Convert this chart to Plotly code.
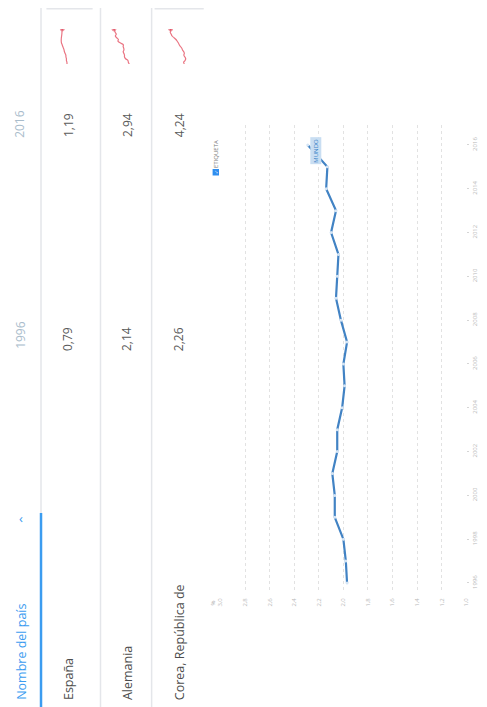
import plotly.graph_objects as go

W, H = 487, 707
OFF = 8  # default page margin of the html body

years = list(range(1996, 2017))
mundo = [1.97, 1.98, 2.00, 2.07, 2.07, 2.09, 2.05, 2.05, 2.01, 1.99, 2.00,
         1.97, 2.02, 2.06, 2.05, 2.04, 2.10, 2.06, 2.14, 2.13, 2.29]

countries = ["España", "Alemania", "Corea, República de"]
val_1996 = ["0,79", "2,14", "2,26"]
val_2016 = ["1,19", "2,94", "4,24"]
spark_es = [0.79, 0.80, 0.84, 0.84, 0.88, 0.89, 0.95, 1.01, 1.04, 1.09, 1.15,
            1.20, 1.26, 1.28, 1.28, 1.27, 1.25, 1.23, 1.22, 1.21, 1.19]
spark_de = [2.14, 2.19, 2.21, 2.33, 2.39, 2.39, 2.42, 2.46, 2.42, 2.43, 2.46,
            2.45, 2.60, 2.73, 2.71, 2.80, 2.87, 2.82, 2.87, 2.91, 2.94]
spark_kr = [2.26, 2.37, 2.16, 2.07, 2.18, 2.34, 2.27, 2.35, 2.53, 2.63, 2.83,
            3.00, 3.12, 3.29, 3.47, 3.74, 4.03, 4.15, 4.29, 4.22, 4.24]
value_ticks = [1.0, 1.2, 1.4, 1.6, 1.8, 2.0, 2.2, 2.4, 2.6, 2.8, 3.0]
year_ticks = list(range(1996, 2017, 2))

FW, FH = W - OFF, H - OFF


def px(x):
    return (x - OFF) / FW


def py(y):
    return 1 - (y - OFF) / FH


FONT = "Open Sans, Noto Sans, sans-serif"
fig = go.Figure()

# main chart (page is rotated: years run bottom->top, values right->left)
fig.add_trace(go.Scatter(
    x=mundo, y=years, mode="lines+markers",
    line=dict(color="#4283c4", width=2.2),
    marker=dict(size=3, color="#d5e5f5"),
    xaxis="x", yaxis="y", showlegend=False,
))

# sparklines
sparks = [spark_es, spark_de, spark_kr]
spark_dom = [(54, 66), (108, 130), (165, 186)]
spark_rng = [(1.62, 0.62), (3.13, 2.00), (4.85, 1.88)]
for i, s in enumerate(sparks):
    n = i + 2
    fig.add_trace(go.Scatter(
        x=s, y=years, mode="lines+markers",
        line=dict(color="#ea7583", width=1.2, shape="spline"),
        marker=dict(size=[0] * (len(s) - 1) + [4], color="#e0475b"),
        xaxis=f"x{n}", yaxis=f"y{n}", showlegend=False,
    ))
    fig.update_layout(**{
        f"xaxis{n}": dict(domain=[px(spark_dom[i][0]), px(spark_dom[i][1])],
                          range=list(spark_rng[i]), visible=False, anchor=f"y{n}"),
        f"yaxis{n}": dict(domain=[py(64), py(29)], range=[1996, 2016],
                          visible=False, anchor=f"x{n}"),
    })

tick_font = dict(family=FONT, size=6, color="#b8b8b8")
fig.update_layout(
    width=FW, height=FH,
    margin=dict(l=0, r=0, t=0, b=0),
    paper_bgcolor="white", plot_bgcolor="white",
    separators=",.",
    xaxis=dict(
        domain=[px(220), px(470)], range=[3.0, 1.0],
        tickvals=value_ticks, tickformat=".1f", tickangle=-90,
        showgrid=True, gridcolor="#e2e2e2", griddash="dot", gridwidth=1,
        zeroline=False, showline=False, ticks="", tickfont=tick_font,
        ticklabelstandoff=6, anchor="y",
    ),
    yaxis=dict(
        domain=[py(590), py(125)], range=[1995.68, 2016.91],
        side="right", tickvals=year_ticks, tickangle=-90,
        showgrid=False, zeroline=False, showline=False,
        ticks="outside", ticklen=2, tickcolor="#d5d5d5",
        ticklabelstandoff=1, tickfont=tick_font, anchor="x",
    ),
)

shapes = []
# table lines
for x in (37.5, 98, 150):
    shapes.append(dict(type="line", xref="paper", yref="paper",
                       x0=px(x), x1=px(x), y0=py(8), y1=py(707),
                       line=dict(color="#e4e6ea", width=1.5)))
shapes.append(dict(type="line", xref="paper", yref="paper",
                   x0=px(37.5), x1=px(37.5), y0=py(513), y1=py(707),
                   line=dict(color="#3b9cf0", width=2.5)))
for x0, x1 in ((43, 90), (153, 203)):
    shapes.append(dict(type="line", xref="paper", yref="paper",
                       x0=px(x0), x1=px(x1), y0=py(8.8), y1=py(8.8),
                       line=dict(color="#e4e6ea", width=1.5)))
# legend checkbox
shapes.append(dict(type="rect", xref="paper", yref="paper",
                   x0=px(212), x1=px(218.5), y0=py(175.5), y1=py(169),
                   fillcolor="#2f8ef0", line=dict(width=0)))
fig.update_layout(shapes=shapes)

ann = []


def text(x, y, s, size, color, anchor="middle", angle=-90, **kw):
    ann.append(dict(x=px(x), y=py(y), xref="paper", yref="paper", text=s,
                    showarrow=False, textangle=angle, xanchor="center",
                    yanchor=anchor, font=dict(family=FONT, size=size, color=color),
                    **kw))


text(17, 702, "Nombre del país", 12.5, "#3b9cf0", anchor="bottom")
text(17, 518, "‹", 13, "#3b9cf0", angle=0)
text(16, 335, "1996", 12, "#a9bccb")
text(16, 124, "2016", 12, "#a9bccb")
row_x = [65, 125, 178]
for i, c in enumerate(countries):
    text(row_x[i], 702, c, 12.5, "#4d4d4d", anchor="bottom")
    text(row_x[i], 339, val_1996[i], 12, "#5a5a5a")
    text(row_x[i], 125, val_2016[i], 12, "#5a5a5a")

text(215.5, 172.2, "✓", 5, "white")
text(215.5, 154, "ETIQUETA", 6, "#777777")
text(212, 603, "%", 6, "#aaaaaa")
# series label at the last point
ann.append(dict(x=mundo[-1], y=years[-1], xref="x", yref="y", text="MUNDO",
                showarrow=False, textangle=-90, xshift=8, yshift=-6,
                bgcolor="#c9def2", borderpad=1,
                font=dict(family=FONT, size=6, color="#3d84c8")))
fig.update_layout(annotations=ann)

fig.write_html("out.html")
